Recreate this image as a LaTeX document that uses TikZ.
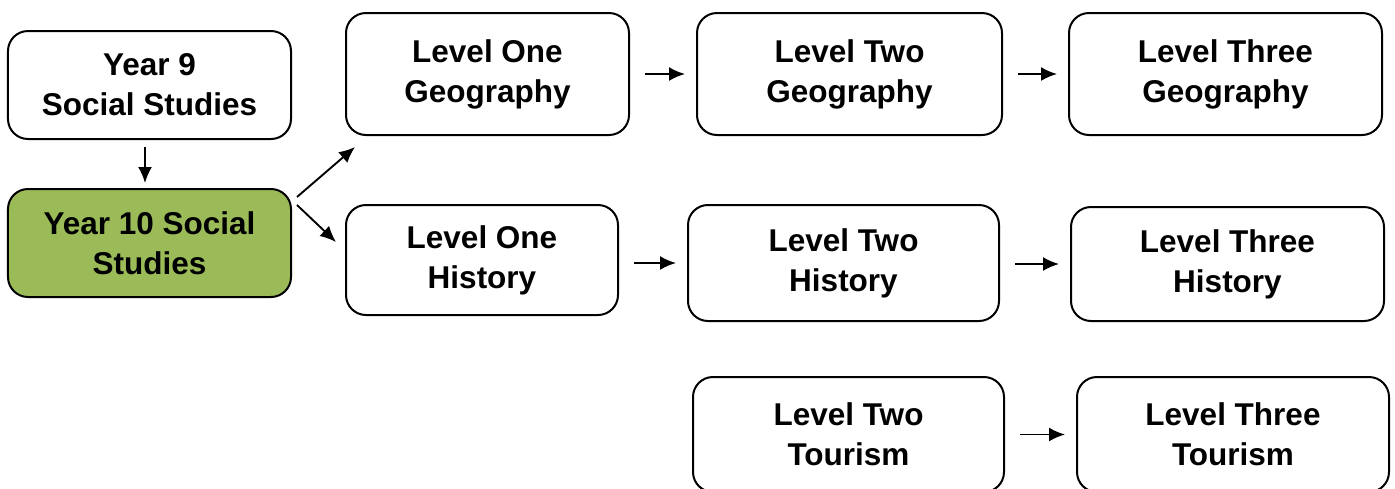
\documentclass[tikz,border=0pt]{standalone}
\usepackage{fontspec}
\setmainfont{Liberation Sans}
\usetikzlibrary{arrows.meta}
\definecolor{yeargreen}{HTML}{9BBB59}

\begin{document}
\begin{tikzpicture}[x = 0.4pt, y = -0.4pt,
	box/.style = {draw, line width=0.8pt, rounded corners=8pt, inner sep=0pt, align=center,
		font=\fontsize{12.6}{16}\selectfont\bfseries},
	arr/.style = {-{Latex[length=6.4pt,width=5.6pt]}, line width=0.75pt},
]
\useasboundingbox (0,0) rectangle (1395,488);

\node[box, minimum width=113.2pt, minimum height=43.2pt] (y9) at (149.5,85) {Year 9\\Social Studies};
\node[box, fill=yeargreen, minimum width=113.2pt, minimum height=43.2pt] (y10) at (149.5,243) {Year 10 Social\\Studies};

\node[box, minimum width=113.2pt, minimum height=48.8pt] (l1geo) at (487.5,74) {Level One\\Geography};
\node[box, minimum width=122pt, minimum height=48.8pt] (l2geo) at (849.5,74) {Level Two\\Geography};
\node[box, minimum width=125.2pt, minimum height=48.8pt] (l3geo) at (1225.5,74) {Level Three\\Geography};

\node[box, minimum width=108.8pt, minimum height=44pt] (l1hist) at (482,260) {Level One\\History};
\node[box, minimum width=124.4pt, minimum height=46.4pt] (l2hist) at (843.5,263) {Level Two\\History};
\node[box, minimum width=125.2pt, minimum height=45.6pt] (l3hist) at (1227.5,264) {Level Three\\History};

\node[box, minimum width=124.4pt, minimum height=46pt] (l2tour) at (848.5,434.5) {Level Two\\Tourism};
\node[box, minimum width=124.8pt, minimum height=46pt] (l3tour) at (1233,434.5) {Level Three\\Tourism};

\draw [arr, shorten <=2.8pt, shorten >=2pt] ([xshift=-1.8pt]y9.south) -- ([xshift=-1.8pt]y10.north);
\draw [arr] ([xshift=2pt,yshift=18.4pt]y10.east) -- ([xshift=4pt,yshift=-4.4pt]l1geo.south west);
\draw [arr] ([xshift=2pt,yshift=15.2pt]y10.east) -- ([xshift=-3.6pt,yshift=7.2pt]l1hist.west);

\foreach \a/\b in {l1geo/l2geo, l2geo/l3geo, l1hist/l2hist, l2hist/l3hist, l2tour/l3tour}
	{
		\draw [arr, shorten <=6pt, shorten >=4.4pt] (\a.east |- \b.west) -- (\b.west);
	}

\end{tikzpicture}
\end{document}
